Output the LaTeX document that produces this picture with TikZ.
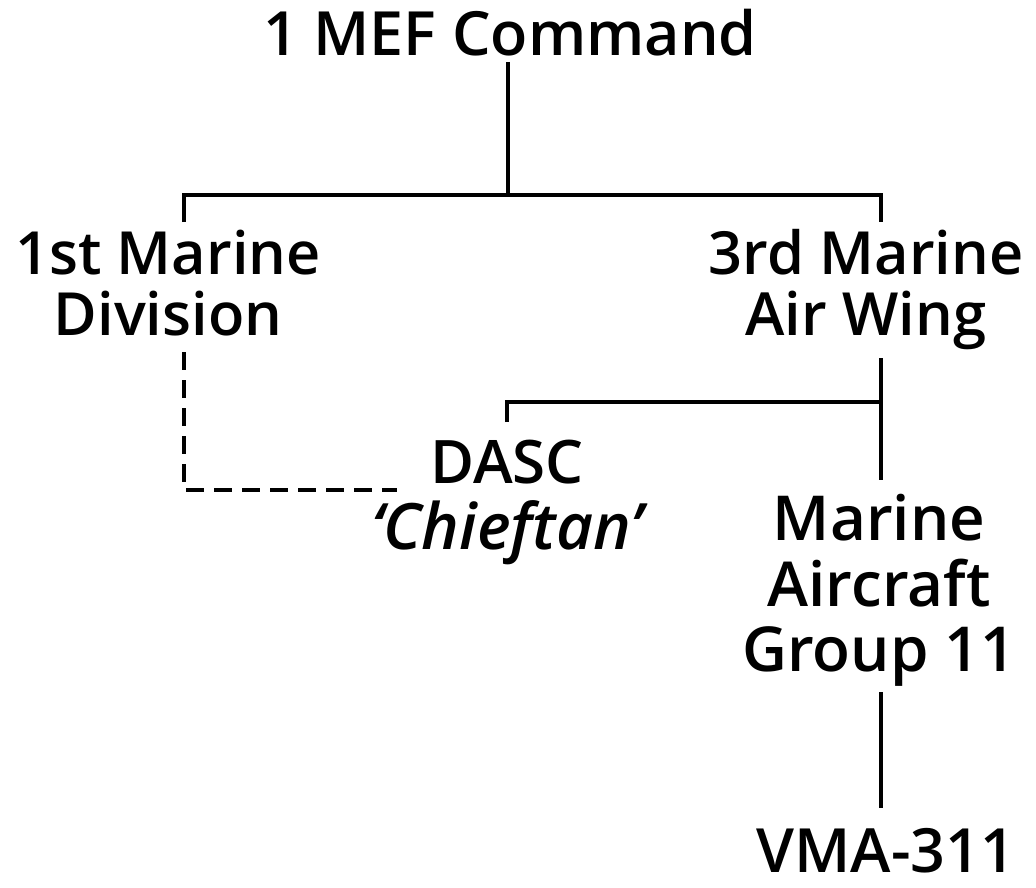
\documentclass[tikz,border=0pt]{standalone}
\usepackage{fontspec}
\setmainfont{Open Sans}[BoldFont={Open Sans Semibold}, BoldItalicFont={Open Sans Semibold Italic}]
\begin{document}
\begin{tikzpicture}[x=1pt,y=-1pt,
  lbl/.style={inner sep=0pt, anchor=base},
  ln/.style={line width=4.5pt},
  dln/.style={line width=4.5pt, dash pattern=on 18pt off 10pt}]
\useasboundingbox (0,0) rectangle (1036,888);
\renewcommand{\arraystretch}{1}
% labels
\node[lbl, font=\fontsize{61}{61}\selectfont\bfseries] (mef) at (510,56) {1 MEF Command};
\node[lbl, font=\fontsize{59.5}{57}\selectfont\bfseries] (div) at (168,274) {\begin{tabular}[t]{@{}c@{}}1st Marine\\Division\end{tabular}};
\node[lbl, font=\fontsize{59.5}{57}\selectfont\bfseries] (wing) at (866,274) {\begin{tabular}[t]{@{}c@{}}3rd Marine\\Air Wing\end{tabular}};
\node[lbl, font=\fontsize{60}{57}\selectfont\bfseries] (dasc) at (507,483) {\begin{tabular}[t]{@{}c@{}}DASC\\\fontsize{64}{57}\selectfont\itshape ‘Chieftan’\end{tabular}};
\node[lbl, font=\fontsize{62}{65}\selectfont\bfseries] (mag) at (879,540) {\begin{tabular}[t]{@{}c@{}}Marine\\Aircraft\\Group 11\end{tabular}};
\node[lbl, font=\fontsize{61}{61}\selectfont\bfseries] (vma) at (886,872) {VMA-311};
% connector points
\coordinate (mefB) at (508,62);
\coordinate (j1) at (508,195);
\coordinate (divT) at (184,222);
\coordinate (wingT) at (881,222);
\coordinate (divB) at (184,352);
\coordinate (dascL) at (397,490);
\coordinate (wingB) at (881,358);
\coordinate (j2) at (881,402);
\coordinate (dascT) at (507,422);
\coordinate (magT) at (881,480);
\coordinate (magB) at (881,692);
\coordinate (vmaT) at (881,808);
% connectors
\draw[ln] (mefB) -- (j1);
\draw[ln] (divT) |- (j1) -| (wingT);
\draw[ln] (wingB) -- (magT);
\draw[ln] (dascT) |- (j2);
\draw[ln] (magB) -- (vmaT);
\draw[dln] (divB) |- (dascL);
\end{tikzpicture}
\end{document}
